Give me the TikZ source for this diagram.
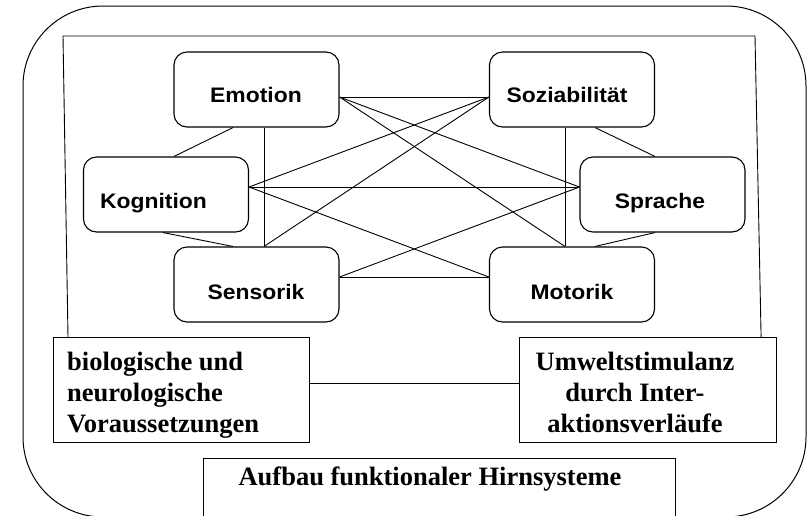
\documentclass[tikz,border=0pt]{standalone}
\usepackage{fontspec}
\setmainfont{Liberation Serif}
\setsansfont{Liberation Sans}
\newfontfamily\boxsans[FakeStretch=1.09]{Liberation Sans}
\usetikzlibrary{calc}
\begin{document}
\begin{tikzpicture}[x=1pt,y=-1pt,
  rbox/.style={draw, rounded corners=13pt, line width=1.1pt, minimum width=165pt, minimum height=75pt, inner sep=0pt},
  sbox/.style={draw, line width=1.1pt, inner sep=0pt, anchor=north west},
  stxt/.style={font=\boxsans\bfseries\fontsize{21}{25}\selectfont, inner sep=0pt, anchor=base},
  btxt/.style={font=\rmfamily\bfseries\fontsize{26.5}{31}\selectfont, inner sep=0pt},
  conn/.style={line width=0.9pt},
  frame/.style={line width=1pt, rounded corners=80pt}
]
\useasboundingbox (0,0) rectangle (807,515);
\clip (0,0) rectangle (807,515);
% outer frame
\draw[frame] (23,6) rectangle (806,517);

% function boxes
\node[rbox] (emo) at (256.5,89.5) {};
\node[rbox] (soz) at (572,89.5) {};
\node[rbox] (kog) at (166,194.5) {};
\node[rbox] (spr) at (662.5,194.5) {};
\node[rbox] (sen) at (256.5,284.5) {};
\node[rbox] (mot) at (572,284.5) {};

\node[stxt] (emo-t) at (256,102.5) {Emotion};
\node[stxt] (soz-t) at (567,102) {Soziabilität};
\node[stxt] (kog-t) at (153.5,208) {Kognition};
\node[stxt] (spr-t) at (660,208) {Sprache};
\node[stxt] (sen-t) at (256,299) {Sensorik};
\node[stxt] (mot-t) at (572,299) {Motorik};

% bottom boxes
\node[sbox, minimum width=256pt, minimum height=105pt] (bio) at (53,337) {};
\node[sbox, minimum width=257pt, minimum height=105pt] (umw) at (519,337) {};
\node[sbox, minimum width=472pt, minimum height=80pt] (auf) at (203,458) {};

\node[btxt, anchor=north west, align=left] (bio-t) at (67,351.5) {biologische und\\neurologische\\Voraussetzungen};
\node[btxt, anchor=north, align=center] (umw-t) at (635,351.5) {Umweltstimulanz\\durch Inter-\\aktionsverläufe};
\node[btxt, anchor=base] (auf-t) at (430,485) {Aufbau funktionaler Hirnsysteme};

% ports
\coordinate (eR) at ([yshift=-7.5pt]emo.east);
\coordinate (eB1) at ([xshift=-23.5pt]emo.south);
\coordinate (eB2) at ([xshift=7.5pt]emo.south);
\coordinate (sL) at ([yshift=-7.5pt]soz.west);
\coordinate (sB1) at ([xshift=-7pt]soz.south);
\coordinate (sB2) at ([xshift=23pt]soz.south);
\coordinate (kT) at ([xshift=8pt]kog.north);
\coordinate (kR) at ([yshift=7.5pt]kog.east);
\coordinate (kB) at ([xshift=-3pt]kog.south);
\coordinate (pL) at ([yshift=7.5pt]spr.west);
\coordinate (pT) at ([xshift=-7.5pt]spr.north);
\coordinate (pB) at ([xshift=-7.5pt]spr.south);
\coordinate (nT1) at ([xshift=-23.5pt]sen.north);
\coordinate (nT2) at ([xshift=7.5pt]sen.north);
\coordinate (nR) at ([yshift=7.5pt]sen.east);
\coordinate (mL) at ([yshift=7.5pt]mot.west);
\coordinate (mT1) at ([xshift=-7pt]mot.north);
\coordinate (mT2) at ([xshift=23pt]mot.north);

% connectors
\draw[conn] (eB1) -- (kT);
\draw[conn] (eB2) -- (nT2);
\draw[conn] (kB) -- (nT1);
\draw[conn] (eR) -- (sL);
\draw[conn] (eR) -- (pL);
\draw[conn] (eR) -- (mT1);
\draw[conn] (kR) -- (sL);
\draw[conn] (kR) -- (pL);
\draw[conn] (kR) -- (mL);
\draw[conn] (nT2) -- (sL);
\draw[conn] (nR) -- (pL);
\draw[conn] (nR) -- (mL);
\draw[conn] (sB1) -- (mT1);
\draw[conn] (sB2) -- (pT);
\draw[conn] (pB) -- (mT2);

% inner frame and bottom link
\draw[conn] ([xshift=15pt]bio.north west) -- (63,36) -- (755,36) -- ([xshift=-16pt]umw.north east);
\draw[conn] ([yshift=6.5pt]bio.east) -- ([yshift=6.5pt]umw.west);
\end{tikzpicture}
\end{document}
